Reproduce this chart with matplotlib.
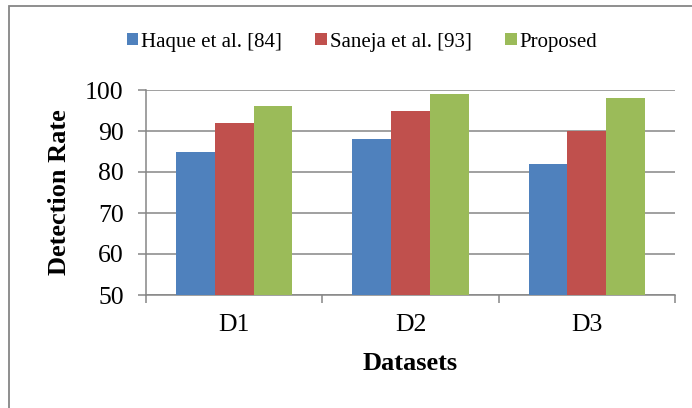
import numpy as np
import matplotlib.pyplot as plt
from matplotlib.patches import Rectangle

plt.rcParams['font.family'] = ['Liberation Serif', 'DejaVu Serif']

# Data
datasets = ['D1', 'D2', 'D3']
series = ['Haque et al. [84]', 'Saneja et al. [93]', 'Proposed']
haque = [85, 88, 82]
saneja = [92, 95, 90]
proposed = [96, 99, 98]
colors = ['#4F81BD', '#C0504D', '#9BBB59']

fig = plt.figure(figsize=(6.92, 4.08), dpi=100)
ax = fig.add_axes([146 / 692, 1 - 295 / 408, 529 / 692, 205 / 408])

x = np.arange(len(datasets))
w = 0.22
for i, (vals, name) in enumerate(zip([haque, saneja, proposed], series)):
    ax.bar(x + (i - 1) * w, vals, width=w, color=colors[i], label=name, zorder=3)

grey = '#868686'
ax.set_xlim(-0.5, 2.5)
ax.set_ylim(50, 100)
ax.set_yticks([50, 60, 70, 80, 90, 100])
ax.yaxis.grid(True, color=grey, linewidth=1.1, zorder=0)
ax.set_axisbelow(True)

# category boundaries carry the tick marks, labels sit at the centres
ax.set_xticks([-0.5, 0.5, 1.5, 2.5])
ax.set_xticklabels([])
ax.set_xticks(x, minor=True)
ax.set_xticklabels(datasets, minor=True)
ax.tick_params(axis='x', which='major', length=6, width=1.1, color=grey, direction='out')
ax.tick_params(axis='x', which='minor', length=0, pad=14, labelsize=18.5)
ax.tick_params(axis='y', length=6, width=1.1, color=grey, direction='out', pad=10, labelsize=18.5)

for s in ['top', 'right']:
    ax.spines[s].set_visible(False)
for s in ['left', 'bottom']:
    ax.spines[s].set_color(grey)
    ax.spines[s].set_linewidth(1.1)

fig.text(60 / 692, 1 - 192 / 408, 'Detection Rate', rotation=90, ha='center', va='center',
         fontsize=19, fontweight='bold')
fig.text(410 / 692, 1 - 363 / 408, 'Datasets', ha='center', va='center',
         fontsize=19, fontweight='bold')

fig.legend(loc='center', bbox_to_anchor=(362 / 692, 1 - 42 / 408), ncol=3, frameon=False,
           fontsize=15, handlelength=0.55, handleheight=0.55, handletextpad=0.15,
           columnspacing=1.6)

# outer chart border
fig.patches.append(Rectangle((9 / 692, -0.1), 1.2, 1.1 - 6 / 408, transform=fig.transFigure,
                             fill=False, edgecolor=grey, linewidth=1.3))

fig.savefig('out.png', dpi=100)
